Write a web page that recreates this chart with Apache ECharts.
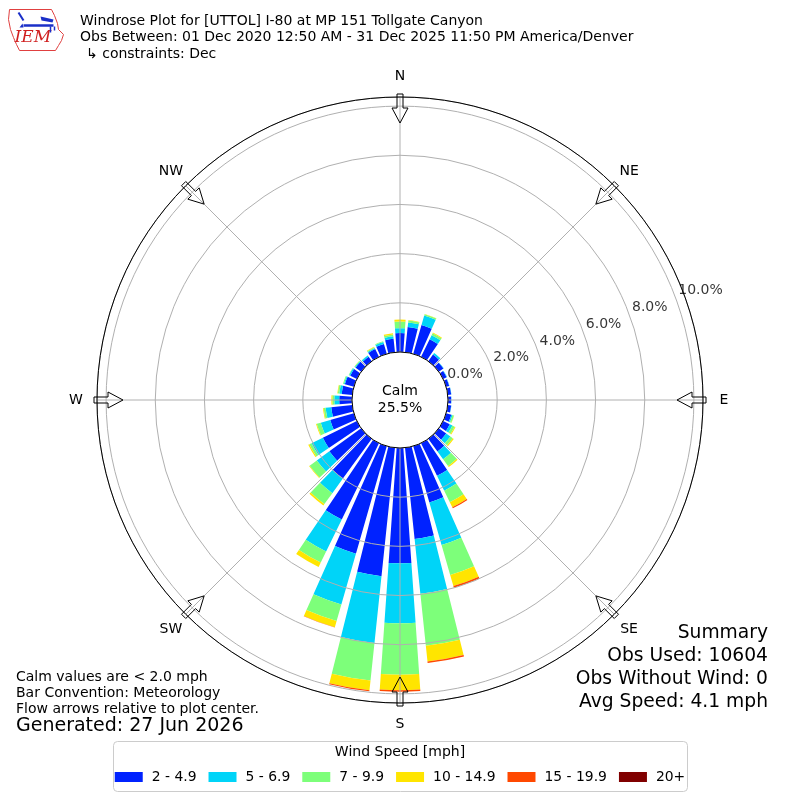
<!DOCTYPE html>
<html>
<head>
<meta charset="utf-8">
<script src="https://cdn.jsdelivr.net/npm/echarts@6/dist/echarts.min.js"></script>
<style>
html,body{margin:0;padding:0;background:#fff;}
#chart{width:800px;height:800px;}
</style>
</head>
<body>
<div id="chart"></div>
<script>
// ---------- DATA ----------
const directions = ['0','10','20','30','40','50','60','70','80','90','100','110','120','130','140','150','160','170',
                    '180','190','200','210','220','230','240','250','260','270','280','290','300','310','320','330','340','350'];
const speedBins = ['2 - 4.9', '5 - 6.9', '7 - 9.9', '10 - 14.9', '15 - 19.9', '20+'];
const binColors = ['#0022ff', '#00d4f8', '#7dff7a', '#ffe500', '#ff4800', '#800000'];

// percent of observations per direction (0..350 deg, step 10) for each speed bin
const spd2to5 = [0.77,1.03,1.22,0.80,0.33,0.23,0.16,0.13,0.14,0.13,0.14,0.22,0.30,0.37,0.64,1.48,2.38,3.73,
                 4.69,5.25,4.55,3.45,2.00,1.60,1.54,1.00,0.86,0.52,0.43,0.38,0.30,0.28,0.22,0.35,0.42,0.55];
const spd5to7 = [0.20,0.19,0.40,0.18,0.08,0.02,0.02,0.01,0.01,0.01,0.01,0.05,0.12,0.21,0.39,0.67,1.80,2.24,
                 2.44,2.73,2.15,1.45,0.73,0.63,0.51,0.40,0.23,0.20,0.10,0.04,0.05,0.04,0.06,0.05,0.08,0.10];
const spd7to10 = [0.27,0.08,0.06,0.09,0.00,0.00,0.00,0.00,0.00,0.00,0.00,0.06,0.10,0.12,0.34,0.52,1.27,2.13,
                  2.09,1.54,0.70,0.50,0.55,0.36,0.10,0.17,0.08,0.08,0.06,0.04,0.02,0.02,0.01,0.04,0.03,0.08];
const spd10to15 = [0.08,0.02,0.01,0.03,0,0,0,0,0,0,0,0.01,0.04,0.05,0.05,0.23,0.47,0.64,
                   0.63,0.40,0.26,0.20,0.07,0.03,0.05,0.03,0.03,0.04,0.02,0,0,0.01,0,0.02,0,0.05];
const spd15to20 = [0,0,0,0,0,0,0,0,0,0,0,0,0,0,0,0.05,0.07,0.06,
                   0.06,0.04,0.01,0,0,0,0,0,0,0,0,0,0,0,0,0,0,0];
const spd20plus = [0,0,0,0,0,0,0,0,0,0,0,0,0,0,0,0,0,0,
                   0,0,0,0,0,0,0,0,0,0,0,0,0,0,0,0,0,0];
const binData = [spd2to5, spd5to7, spd7to10, spd10to15, spd15to20, spd20plus];

const radialMax = 10.37;
const radialTicks = [0, 2, 4, 6, 8, 10];
const compassNames = ['N','NE','E','SE','S','SW','W','NW'];
const compassAngles = [0,45,90,135,180,225,270,315];
const calmPct = 25.5;

const titleLines = [
  'Windrose Plot for [UTTOL] I-80 at MP 151 Tollgate Canyon',
  'Obs Between: 01 Dec 2020 12:50 AM - 31 Dec 2025 11:50 PM America/Denver',
  '\u21b3 constraints: Dec'
];
const noteLines = ['Calm values are < 2.0 mph', 'Bar Convention: Meteorology', 'Flow arrows relative to plot center.'];
const generatedText = 'Generated: 27 Jun 2026';
const summaryLines = ['Summary', 'Obs Used: 10604', 'Obs Without Wind: 0', 'Avg Speed: 4.1 mph'];

// ---------- CHART ----------
const FONT = 'DejaVu Sans';
const chart = echarts.init(document.getElementById('chart'), null, {renderer: 'canvas'});

const barSeries = speedBins.map((name, i) => ({
  name: name,
  type: 'bar',
  coordinateSystem: 'polar',
  polarIndex: 0,
  stack: 'wind',
  barCategoryGap: '20%',
  data: binData[i],
  itemStyle: {color: binColors[i]},
  silent: true,
  z: 2
}));

function renderCompass(params, api) {
  const cs = params.coordSys;
  const deg = api.value(1);
  const a = deg * Math.PI / 180;
  const ux = Math.sin(a), uy = -Math.cos(a);
  const vx = -uy, vy = ux;
  const R = cs.r;
  const P = (rr, w) => [cs.cx + ux * rr + vx * w, cs.cy + uy * rr + vy * w];
  const tip = R - 26, base = R - 11, tail = R + 3;
  const lbl = P(R + 21, 0);
  return {
    type: 'group',
    children: [
      {type: 'polygon', shape: {points: [P(tip, 0), P(base, 8), P(base, 3), P(tail, 3), P(tail, -3), P(base, -3), P(base, -8)]},
       style: {fill: 'none', stroke: '#000', lineWidth: 1}},
      {type: 'text', style: {x: lbl[0], y: lbl[1], text: compassNames[params.dataIndex], fill: '#000',
        font: '14px "' + FONT + '"', align: 'center', verticalAlign: 'middle'}}
    ]
  };
}

function renderFrame(params, api) {
  const cs = params.coordSys;
  return {
    type: 'group',
    children: [
      {type: 'circle', shape: {cx: cs.cx, cy: cs.cy, r: cs.r0}, style: {fill: '#fff', stroke: '#000', lineWidth: 1}},
      {type: 'circle', shape: {cx: cs.cx, cy: cs.cy, r: cs.r}, style: {fill: 'none', stroke: '#000', lineWidth: 1}},
      {type: 'text', style: {x: cs.cx, y: cs.cy - 9, text: 'Calm', fill: '#000', font: '14px "' + FONT + '"', align: 'center', verticalAlign: 'middle'}},
      {type: 'text', style: {x: cs.cx, y: cs.cy + 8, text: calmPct.toFixed(1) + '%', fill: '#000', font: '14px "' + FONT + '"', align: 'center', verticalAlign: 'middle'}}
    ]
  };
}

const graphic = [];
// title
titleLines.forEach((t, i) => {
  graphic.push({type: 'text', left: i === 2 ? 86 : 80, top: [14, 30, 47][i],
    style: {text: t, fill: '#000', font: '14px "' + FONT + '"'}});
});
// notes
noteLines.forEach((t, i) => {
  graphic.push({type: 'text', left: 16, top: [670, 686, 702][i],
    style: {text: t, fill: '#000', font: '14px "' + FONT + '"'}});
});
graphic.push({type: 'text', left: 16, top: 717, style: {text: generatedText, fill: '#000', font: '19px "' + FONT + '"'}});
// summary
summaryLines.forEach((t, i) => {
  graphic.push({type: 'text', right: 32, top: [624, 647, 670, 693][i],
    style: {text: t, fill: '#000', font: '18.7px "' + FONT + '"'}});
});
// legend frame & title
graphic.push({type: 'rect', z: 0, shape: {x: 113.5, y: 741.5, width: 574, height: 50, r: 4},
  style: {fill: '#fff', stroke: '#cccccc', lineWidth: 1}});
graphic.push({type: 'text', z: 1, left: 'center', top: 745,
  style: {text: 'Wind Speed [mph]', fill: '#000', font: '14px "' + FONT + '"'}});
// IEM logo
graphic.push({type: 'group', left: 6, top: 7, children: [
  {type: 'polyline', shape: {points: [[2,2],[44,2],[47,8],[50,16],[51,22],[56,27],[54,33],[51,38],[48,43],[12,43],[9,37],[6,30],[3,22],[1,12],[2,2]]},
   style: {stroke: '#e04040', lineWidth: 1, fill: 'none'}},
  {type: 'text', x: 7, y: 22, style: {text: 'IEM', fill: '#d02020', font: 'italic 17px "DejaVu Serif"'}},
  {type: 'line', shape: {x1: 16, y1: 18, x2: 46, y2: 18}, style: {stroke: '#1a2fc8', lineWidth: 2.5}},
  {type: 'line', shape: {x1: 11, y1: 5, x2: 16, y2: 13}, style: {stroke: '#1a2fc8', lineWidth: 2}},
  {type: 'polygon', shape: {points: [[33,9],[46,12],[45,15],[34,13]]}, style: {fill: '#1a2fc8'}},
  {type: 'polygon', shape: {points: [[12,20],[15,16],[16,20]]}, style: {fill: '#1a2fc8'}},
  {type: 'line', shape: {x1: 43, y1: 19, x2: 43, y2: 25}, style: {stroke: '#1a2fc8', lineWidth: 1.5}},
  {type: 'line', shape: {x1: 47, y1: 19, x2: 47, y2: 23}, style: {stroke: '#1a2fc8', lineWidth: 1.5}}
]});

const option = {
  animation: false,
  backgroundColor: '#fff',
  textStyle: {fontFamily: FONT},
  polar: [
    {center: ['50%', '50%'], radius: [48, 303]},
    {center: ['50%', '50%'], radius: [48, 303]}
  ],
  angleAxis: [
    {polarIndex: 0, type: 'category', data: directions, startAngle: 95, clockwise: true, boundaryGap: true,
     axisLine: {show: false}, axisTick: {show: false}, axisLabel: {show: false}, splitLine: {show: false}},
    {polarIndex: 1, type: 'value', min: 0, max: 360, interval: 45, startAngle: 90, clockwise: true, z: 5,
     axisLine: {show: false}, axisTick: {show: false}, axisLabel: {show: false},
     splitLine: {show: true, lineStyle: {color: '#b0b0b0', width: 1}}}
  ],
  radiusAxis: [
    {polarIndex: 0, type: 'value', min: 0, max: radialMax,
     axisLine: {show: false}, axisTick: {show: false}, axisLabel: {show: false}, splitLine: {show: false}},
    {polarIndex: 1, type: 'value', min: 0, max: radialMax, interval: 2, z: 5,
     axisLine: {show: false}, axisTick: {show: false}, axisLabel: {show: false},
     splitLine: {show: true, lineStyle: {color: '#b0b0b0', width: 1}}}
  ],
  legend: {
    data: speedBins, left: 'center', top: 770, padding: 0, z: 10,
    itemWidth: 28, itemHeight: 10, itemGap: 12, icon: 'rect', selectedMode: false,
    textStyle: {fontSize: 13.9, color: '#000', fontFamily: FONT, padding: [0, 0, 0, 4]}
  },
  graphic: graphic,
  series: barSeries.concat([
    {
      type: 'scatter', coordinateSystem: 'polar', polarIndex: 1, silent: true, z: 12,
      symbolSize: 0.1, itemStyle: {color: 'rgba(0,0,0,0)'},
      data: radialTicks.map(v => [v, 70]),
      label: {show: true, position: 'right', distance: 0, offset: [2, -9], color: '#000', fontSize: 14, fontFamily: FONT,
        formatter: p => p.value[0].toFixed(1) + '%'}
    },
    {
      type: 'custom', coordinateSystem: 'polar', polarIndex: 1, silent: true, z: 10,
      data: [[0, 0]], renderItem: renderFrame
    },
    {
      type: 'custom', coordinateSystem: 'polar', polarIndex: 1, silent: true, z: 11,
      data: compassAngles.map(a => [0, a]), renderItem: renderCompass
    }
  ])
};
chart.setOption(option);
</script>
</body>
</html>
